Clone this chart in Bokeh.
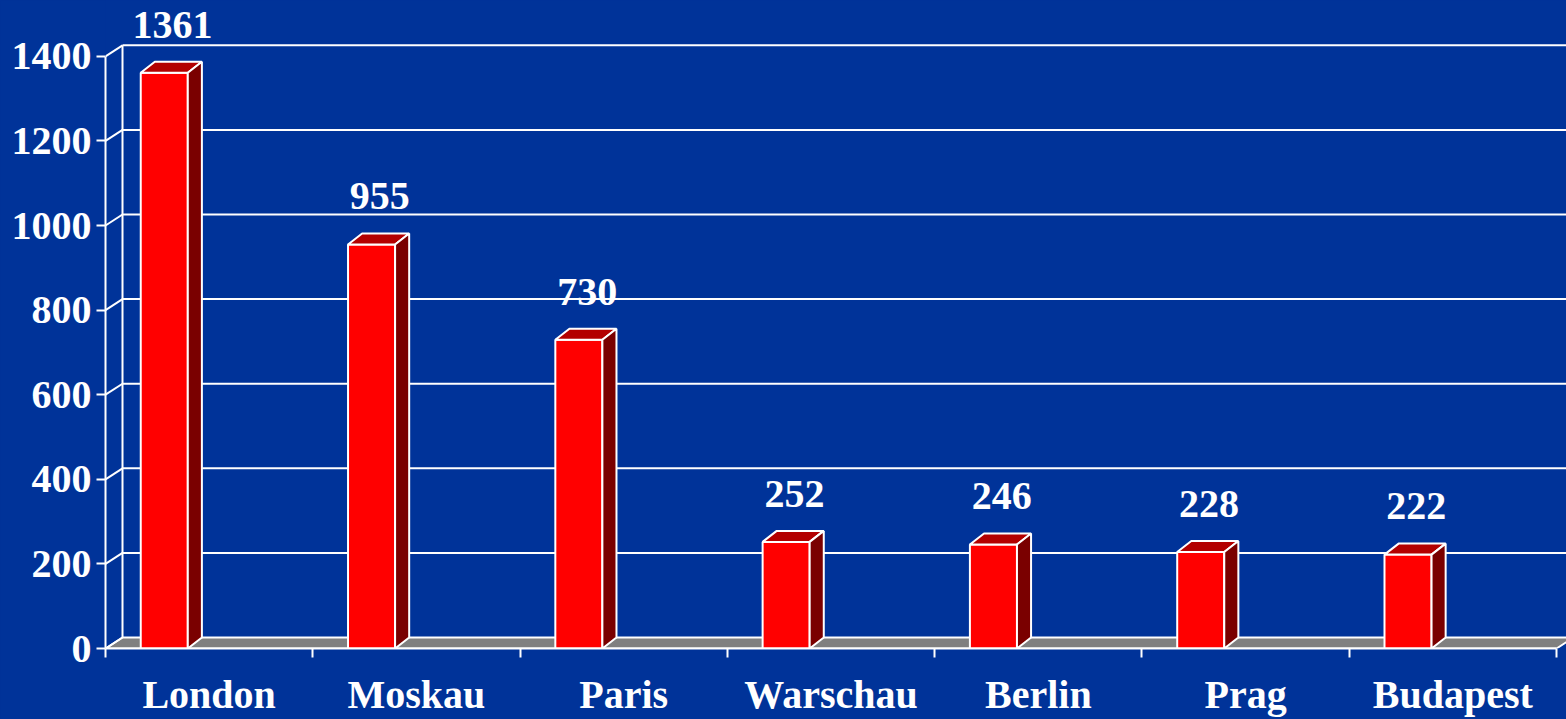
from bokeh.plotting import figure
from bokeh.models import Range1d, FixedTicker, GlobalInlineStyleSheet
from bokeh.core.properties import value
from bokeh.embed import file_html
from bokeh.resources import INLINE

# ---- data ----
cities = ["London", "Moskau", "Paris", "Warschau", "Berlin", "Prag", "Budapest"]
counts = [1361, 955, 730, 252, 246, 228, 222]
y_ticks = [0, 200, 400, 600, 800, 1000, 1200, 1400]

# ---- style / geometry constants ----
BG = "#003399"
FRONT = "#FF0000"
TOP = "#B30000"
SIDE = "#7A0000"
FLOOR = "#808080"
FONT = "Liberation Serif"
FS = "40px"

DX, DY = 0.082, 26.0      # depth of the back wall (x in category units, y in data units)
BX, BY = 0.068, 26.0      # depth of each bar
B_OFF, BW = 0.17, 0.227   # bar front face offset within its category, width
LABEL_GAP = 114           # data units between bar top and its value label

n = len(cities)

p = figure(width=1566, height=719, x_range=Range1d(0, 7.048), y_range=Range1d(0, 1532),
           output_backend="svg", toolbar_location=None,
           min_border_left=105, min_border_right=0, min_border_top=0, min_border_bottom=69)
p.background_fill_color = BG
p.border_fill_color = BG
p.outline_line_color = None
p.xgrid.visible = False
p.ygrid.visible = False
p.stylesheets = [GlobalInlineStyleSheet(
    css="html, body { margin: 0; padding: 0; overflow: hidden; background-color: #003399; }")]

# back wall gridlines
gx = [[DX, n + 1] for v in y_ticks[1:]]
gy = [[v + DY, v + DY] for v in y_ticks[1:]]
p.multi_line(gx, gy, line_color="white", line_width=2)
# back wall vertical edge
p.line([DX, DX], [DY, y_ticks[-1] + DY], line_color="white", line_width=2)
# floor
p.patch([0, n, n + DX, DX], [0, 0, DY, DY], fill_color=FLOOR, line_color="white", line_width=2)
# connectors between front axis ticks and back wall
cx = [[0, DX] for v in y_ticks]
cy = [[v, v + DY] for v in y_ticks]
p.multi_line(cx, cy, line_color="white", line_width=2)

# bars
lefts = [i + B_OFF for i in range(n)]
rights = [l + BW for l in lefts]
p.quad(left=lefts, right=rights, bottom=[0] * n, top=counts,
       fill_color=FRONT, line_color="white", line_width=2)
top_xs = [[l, l + BX, r + BX, r] for l, r in zip(lefts, rights)]
top_ys = [[v, v + BY, v + BY, v] for v in counts]
p.patches(top_xs, top_ys, fill_color=TOP, line_color="white", line_width=2)
side_xs = [[r, r + BX, r + BX, r] for r in rights]
side_ys = [[0, BY, v + BY, v] for v in counts]
p.patches(side_xs, side_ys, fill_color=SIDE, line_color="white", line_width=2)

# value labels
lab_x = [l + (BW + BX) / 2 + 0.006 for l in lefts]
lab_y = [v + LABEL_GAP for v in counts]
p.text(lab_x, lab_y, text=[str(v) for v in counts], text_align="center",
       text_baseline="alphabetic", text_color="white", text_font=value(FONT),
       text_font_size=FS, text_font_style="bold")

# y axis (front)
ya = p.yaxis[0]
ya.ticker = FixedTicker(ticks=y_ticks)
ya.bounds = (0, y_ticks[-1])
ya.axis_line_color = "white"
ya.axis_line_width = 2
ya.major_tick_line_color = "white"
ya.major_tick_line_width = 2
ya.major_tick_out = 9
ya.major_tick_in = 0
ya.minor_tick_line_color = None
ya.major_label_text_color = "white"
ya.major_label_text_font = FONT
ya.major_label_text_font_size = FS
ya.major_label_text_font_style = "bold"
ya.major_label_standoff = 5

# x axis (front)
xa = p.xaxis[0]
centers = [i + 0.5 for i in range(n)]
xa.ticker = FixedTicker(ticks=centers, minor_ticks=list(range(n + 1)))
xa.major_label_overrides = {c: name for c, name in zip(centers, cities)}
xa.bounds = (0, n)
xa.axis_line_color = "white"
xa.axis_line_width = 2
xa.major_tick_line_color = None
xa.major_tick_out = 0
xa.major_tick_in = 0
xa.minor_tick_line_color = "white"
xa.minor_tick_line_width = 2
xa.minor_tick_out = 9
xa.minor_tick_in = 0
xa.major_label_text_color = "white"
xa.major_label_text_font = FONT
xa.major_label_text_font_size = FS
xa.major_label_text_font_style = "bold"
xa.major_label_standoff = 14

open("out.html", "w").write(file_html(p, INLINE))
